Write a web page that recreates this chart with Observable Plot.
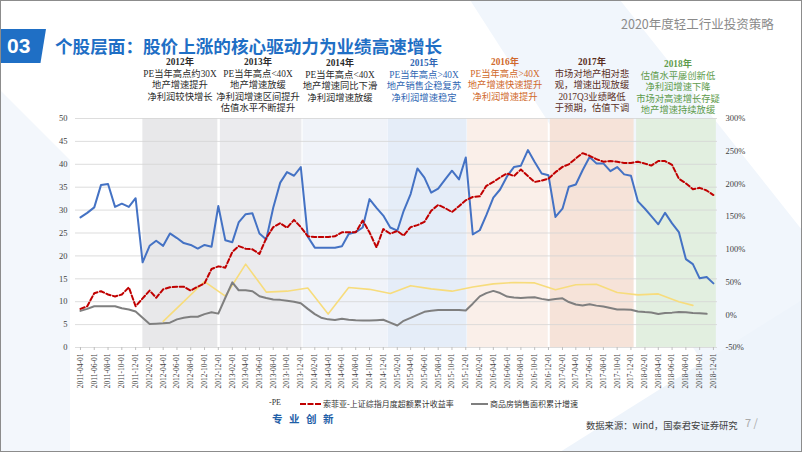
<!DOCTYPE html>
<html><head><meta charset="utf-8">
<script src="https://cdn.jsdelivr.net/npm/d3@7"></script>
<script src="https://cdn.jsdelivr.net/npm/@observablehq/plot@0.6"></script>
<style>
body{margin:0;background:#fff;}
#page{position:relative;width:802px;height:452px;overflow:hidden;background:#fff;font-family:"Noto Sans CJK SC",sans-serif;}
#frame{position:absolute;left:0;top:0;width:802px;height:452px;box-sizing:border-box;border:1px solid #8c8c8c;pointer-events:none;z-index:10;}
.abs{position:absolute;white-space:nowrap;}
#chart{position:absolute;left:0;top:0;z-index:1;}
.note{position:absolute;transform:translateX(-50%);text-align:center;font-family:"Liberation Serif","Noto Sans CJK SC",serif;font-size:9.3px;line-height:11.5px;z-index:2;white-space:nowrap;}
.note b{font-weight:bold;}
.leg{position:absolute;font-family:"Liberation Serif","Noto Sans CJK SC",serif;font-size:8px;color:#333;top:398px;z-index:2;white-space:nowrap;}
</style></head>
<body><div id="page">
<svg class="abs" style="left:0;top:0;z-index:0" width="802" height="452">
  <polygon points="470,0 620,0 802,230 802,452 760,452" fill="#f1f6fc"/>
  <polygon points="0,90 70,160 70,452 0,452" fill="#f3f7fc"/>
  <polygon points="560,452 802,300 802,452" fill="#eef4fb"/>
</svg>
<div class="abs" style="left:0;top:29px;width:46px;height:34px;background:#1f6fc5;clip-path:polygon(0 0,100% 0,88% 100%,0 100%);z-index:2"></div>
<div class="abs" style="left:7px;top:30px;font-size:21px;font-weight:bold;color:#fff;line-height:32px;font-family:'Liberation Sans Narrow','Liberation Sans',sans-serif;z-index:3">03</div>
<div class="abs" style="left:55px;top:36px;font-size:17.6px;font-weight:bold;color:#1f6fc5;line-height:20px;z-index:2">个股层面：股价上涨的核心驱动力为业绩高速增长</div>
<div class="abs" style="left:621px;top:15px;font-size:12.5px;color:#8a8a8a;line-height:18px;z-index:2">2020年度轻工行业投资策略</div>
<div id="chart"></div>
<div id="notes"></div>
<div class="leg" style="left:269px;">-PE</div>
<div class="abs" style="left:300px;top:403px;width:21px;height:0;border-top:2.5px dashed #c00000;z-index:2"></div>
<div class="leg" style="left:323px;">索菲亚-上证综指月度超额累计收益率</div>
<div class="abs" style="left:471px;top:403px;width:17px;height:0;border-top:2px solid #7f7f7f;z-index:2"></div>
<div class="leg" style="left:490px;">商品房销售面积累计增速</div>
<div class="abs" style="left:272px;top:411px;font-size:10.5px;font-weight:bold;color:#1f5fa8;letter-spacing:6.5px;line-height:16px;z-index:2">专业创新</div>
<div class="abs" style="left:586px;top:418px;font-size:9.3px;color:#404040;line-height:14px;z-index:2">数据来源：wind，国泰君安证券研究</div>
<div class="abs" style="left:745px;top:414px;font-size:11px;color:#aaa;line-height:16px;z-index:2">7 /</div>
<div id="frame"></div>
</div>
<script>
// ---- data ----
const startMonth = "2011-04-01";
const endMonth = "2018-12-01";
// 索菲亚 PE (left axis), monthly 2011-04 .. 2018-12
const pe = [
 28.4,29.4,30.6,35.5,35.7,30.7,31.4,30.7,32.6,
 18.6,22.2,23.3,22.2,24.9,23.9,22.8,22.4,21.6,22.4,22.0,30.9,
 23.4,23.0,27.3,29.1,29.3,24.9,23.6,30.5,36.0,38.3,37.5,39.4,
 24.2,21.8,21.8,21.8,21.8,22.1,24.8,25.2,26.2,32.4,30.5,28.8,
 26.2,25.5,29.8,33.5,39.1,37.1,33.8,34.7,36.7,38.6,36.7,41.5,
 24.7,25.6,28.9,32.7,34.5,37.4,39.4,39.7,43.1,40.5,38.0,37.6,
 28.5,30.3,35.1,35.6,38.7,41.6,40.2,40.2,38.5,39.4,37.8,37.5,
 31.9,30.3,28.7,26.9,29.4,27.1,25.2,19.3,18.2,15.1,15.4,14.0
];
// 索菲亚-上证综指月度超额累计收益率 (%, right axis), 2011-04 .. 2018-12
const excess = [
 9,13,33,36,31,28,31,42,13,
 25,37,26,39,42,43,43,37,43,48,70,74,
 72,96,105,101,100,93,117,134,140,133,145,134,
 120,119,119,119,120,126,126,126,144,126,103,131,
 124,128,121,134,137,142,159,168,163,157,166,175,
 180,181,197,203,210,216,212,222,212,203,205,208,
 218,226,230,239,247,243,238,234,235,234,232,232,
 234,231,228,235,235,229,208,201,192,194,190,183
];
// 商品房销售面积累计增速 (%, right axis), 2011-04 .. 2018-11
const salesArea = [
 6,9,13,13,13,13,10,8,5,
 -4.5,-14,-13.6,-13,-12,-7,-4.5,-3,-3,1,4,1.8,
 26,49.5,37.5,37.5,36,28.4,25.6,23.5,22.8,21.4,20,17.5,
 9,1,-4.5,-7,-8,-6,-7.6,-8.3,-8.6,-8.9,-8.2,-7.6,
 -12,-16.3,-9.2,-4.8,-0.2,4.5,6.1,7.2,7.5,7.2,7.4,6.5,
 17,28.2,33.1,36.5,33.2,27.9,26.4,25.5,26.3,26.8,24.3,22.5,
 24,25.1,19.5,15.7,14.3,16.1,14.0,12.7,10.3,8.2,7.9,7.7,
 5,4.1,3.6,1.3,2.9,3.3,4.2,4.0,2.9,2.2,1.4
];
// yellow series (left axis), quarterly
const yellowDates = ["2012-04-01","2012-07-01","2012-10-01","2013-01-01","2013-04-01","2013-07-01","2013-10-01",
 "2014-01-01","2014-04-01","2014-07-01","2014-10-01","2015-01-01","2015-04-01","2015-07-01","2015-10-01",
 "2016-01-01","2016-04-01","2016-07-01","2016-10-01","2017-01-01","2017-04-01","2017-07-01","2017-10-01",
 "2018-01-01","2018-04-01","2018-07-01","2018-09-01"];
const yellowValues = [5.7,10.0,14.4,11.2,18.2,12.1,12.3,13.0,7.3,13.1,12.7,11.8,13.5,12.8,12.3,13.2,13.9,14.2,14.1,12.6,13.7,13.8,12.0,11.5,11.7,10.0,9.2];
// year periods (shaded)
const bandYears = ["2012","2013","2014","2015","2016","2017","2018"];
const bandStart = ["2012-01-02","2012-12-10","2013-12-11","2014-12-22","2015-12-09","2016-12-09","2017-12-26"];
const bandEnd   = ["2012-11-29","2013-12-06","2014-12-20","2015-12-07","2016-11-30","2017-12-15","2018-12-14"];
const bandColors = ["#e8e8ea","#ebebee","#f0f3f9","#e5edf8","#faefe9","#f6e3d9","#e2efe0"];
// tick labels
const leftTicks = [0,5,10,15,20,25,30,35,40,45,50];
const rightTicks = [-50,0,50,100,150,200,250,300];
const xTickLabels = ["2011-04-01","2011-06-01","2011-08-01","2011-10-01","2011-12-01",
 "2012-02-01","2012-04-01","2012-06-01","2012-08-01","2012-10-01","2012-12-01",
 "2013-02-01","2013-04-01","2013-06-01","2013-08-01","2013-10-01","2013-12-01",
 "2014-02-01","2014-04-01","2014-06-01","2014-08-01","2014-10-01","2014-12-01",
 "2015-02-01","2015-04-01","2015-06-01","2015-08-01","2015-10-01","2015-12-01",
 "2016-02-01","2016-04-01","2016-06-01","2016-08-01","2016-10-01","2016-12-01",
 "2017-02-01","2017-04-01","2017-06-01","2017-08-01","2017-10-01","2017-12-01",
 "2018-02-01","2018-04-01","2018-06-01","2018-08-01","2018-10-01","2018-12-01"];
// annotations
const noteYears = ["2012年","2013年","2014年","2015年","2016年","2017年","2018年"];
const noteLines = [
 ["PE当年高点约30X","地产增速提升","净利润较快增长"],
 ["PE当年高点<40X","地产增速放缓","净利润增速区间提升","估值水平不断提升"],
 ["PE当年高点<40X","地产增速同比下滑","净利润增速放缓"],
 ["PE当年高点>40X","地产销售企稳复苏","净利润增速稳定"],
 ["PE当年高点>40X","地产增速快速提升","净利润增速提升"],
 ["市场对地产相对悲","观，增速出现放缓","2017Q3业绩略低","于预期，估值下调"],
 ["估值水平屡创新低","净利润增速下降","市场对高速增长存疑","地产增速持续放缓"]
];

// ---- layout / style ----
const noteColors = ["#2b2b2b","#2b2b2b","#2b2b2b","#2f66b3","#d0692c","#5a2e1e","#5e9b4b"];
const noteX = [180,258,340,424,505,592,678];
const noteTop = [57,57,58,58,57,57,59];

const parse = d3.utcParse("%Y-%m-%d");
const fmt = d3.utcFormat("%Y-%m-%d");
const months = d3.utcMonth.range(parse(startMonth), d3.utcMonth.offset(parse(endMonth), 1));
const toLeft = p => (p + 50) / 7;

const peData = months.map((d, i) => ({date: d, v: pe[i]}));
const exData = months.map((d, i) => ({date: d, v: excess[i]}));
const saData = salesArea.map((v, i) => ({date: months[i], v}));
const yData = yellowDates.map((d, i) => ({date: parse(d), v: yellowValues[i]}));
const bands = bandYears.map((y, i) => ({year: y, x1: parse(bandStart[i]), x2: parse(bandEnd[i]), color: bandColors[i]}));

const chart = Plot.plot({
  width: 802, height: 400,
  marginLeft: 75, marginRight: 85, marginTop: 118, marginBottom: 53,
  x: {type: "utc", domain: [parse("2011-03-10"), parse("2018-12-19")]},
  y: {domain: [0, 50]},
  color: {type: "identity"},
  style: {background: "transparent", fontFamily: "'Liberation Serif', serif", fontSize: "8.5px", color: "#404040"},
  marks: [
    Plot.rect(bands, {x1: "x1", x2: "x2", y1: 0, y2: 50, fill: "color"}),
    Plot.gridY(leftTicks, {stroke: "#d4d4d4", strokeOpacity: 1, strokeWidth: 0.8}),
    Plot.axisY(leftTicks, {anchor: "left", tickSize: 0, tickPadding: 8, label: null}),
    Plot.axisY(rightTicks.map(toLeft), {anchor: "right", tickSize: 0, tickPadding: 8, label: null,
      tickFormat: d => `${Math.round(d * 7 - 50)}%`}),
    Plot.axisX(xTickLabels.map(parse), {tickFormat: fmt, tickRotate: -90, tickSize: 3, tickPadding: 3,
      fontSize: 7.5, label: null, stroke: "#bfbfbf"}),
    Plot.line(yData, {x: "date", y: "v", stroke: "#f7dc7c", strokeWidth: 1.6}),
    Plot.line(saData, {x: "date", y: d => toLeft(d.v), stroke: "#7f7f7f", strokeWidth: 2}),
    Plot.line(peData, {x: "date", y: "v", stroke: "#4472c4", strokeWidth: 2}),
    Plot.line(exData, {x: "date", y: d => toLeft(d.v), stroke: "#c00000", strokeWidth: 2, strokeDasharray: "4.5,2.5"})
  ]
});
document.getElementById("chart").appendChild(chart);

const notes = document.getElementById("notes");
noteYears.forEach((y, i) => {
  const div = document.createElement("div");
  div.className = "note";
  div.style.left = noteX[i] + "px";
  div.style.top = noteTop[i] + "px";
  div.style.color = noteColors[i];
  div.innerHTML = `<b>${y}</b><br>` + noteLines[i].map(s => s.replace(/</g, "&lt;")).join("<br>");
  notes.appendChild(div);
});
</script>
</body></html>
